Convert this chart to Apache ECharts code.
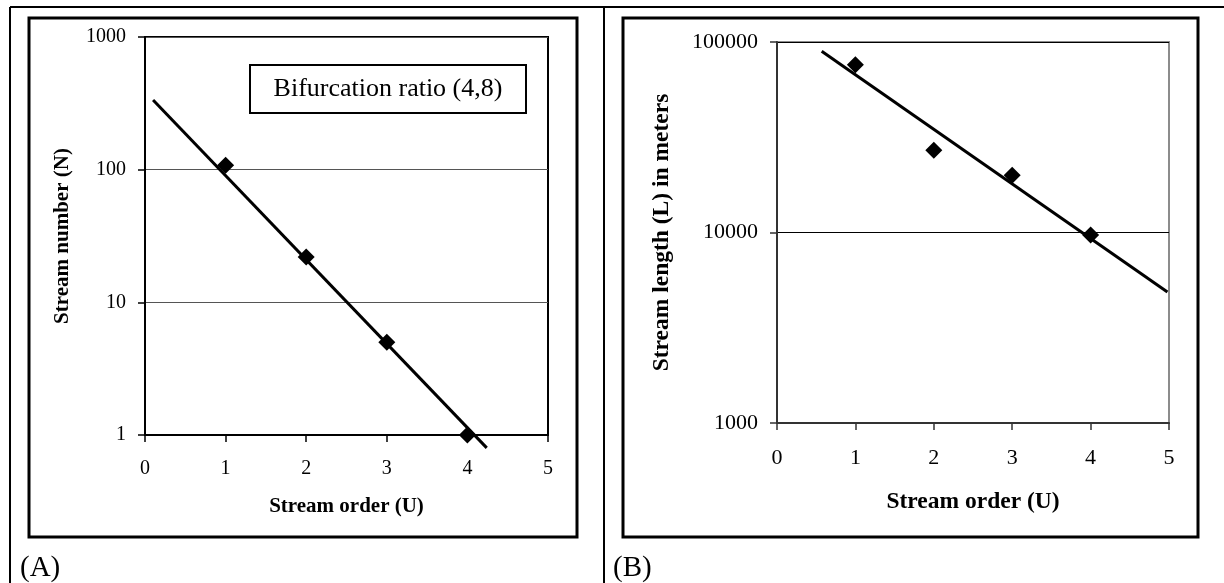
<!DOCTYPE html>
<html>
<head>
<meta charset="utf-8">
<style>
html,body{margin:0;padding:0;background:#fff;}
#chart{width:1224px;height:583px;}
</style>
<script src="https://cdn.jsdelivr.net/npm/echarts@6/dist/echarts.min.js"></script>
</head>
<body>
<div id="chart"></div>
<script>
// ---- data ----
const streamOrder = [1, 2, 3, 4];
const streamNumber = [108, 22, 5, 1];            // panel A (N)
const streamLength = [76000, 27000, 20000, 9700]; // panel B (L, meters)
const trendAx = [0.10, 4.24];
const trendAy = [335, 0.8];
const trendBx = [0.57, 4.98];
const trendBy = [89500, 4870];
const xTickMin = 0, xTickMax = 5, xTickStep = 1;
const yARange = [1, 1000];
const yBRange = [1000, 100000];
const titleA = 'Stream number (N)';
const titleB = 'Stream length (L) in meters';
const titleX = 'Stream order (U)';
const noteA = 'Bifurcation ratio (4,8)';
const panelLabels = ['(A)', '(B)'];

const FONT = '"Liberation Serif", "Times New Roman", serif';
const pairs = (xs, ys) => xs.map((x, i) => [x, ys[i]]);
const plain = v => String(Math.round(v));

const chart = echarts.init(document.getElementById('chart'), null, {renderer: 'canvas'});

function xAxisCfg(gridIndex, axisColor, margin, gap, labelSize, titleSize) {
  return {
    type: 'value', gridIndex, min: xTickMin, max: xTickMax, interval: xTickStep,
    name: titleX, nameLocation: 'middle', nameGap: gap,
    nameTextStyle: {fontFamily: FONT, fontWeight: 'bold', fontSize: titleSize, color: '#000'},
    axisLine: {show: true, onZero: false, lineStyle: {color: axisColor, width: 2}},
    axisTick: {show: true, length: 7, lineStyle: {color: axisColor, width: 1.5}},
    axisLabel: {fontFamily: FONT, fontSize: labelSize, color: '#000', margin: margin, formatter: plain},
    splitLine: {show: false}
  };
}
function yAxisCfg(gridIndex, range, name, axisColor, gap, gridColor, labelSize, titleSize) {
  return {
    type: 'log', logBase: 10, gridIndex, min: range[0], max: range[1],
    name: name, nameLocation: 'middle', nameGap: gap, nameRotate: 90,
    nameTextStyle: {fontFamily: FONT, fontWeight: 'bold', fontSize: titleSize, color: '#000'},
    axisLine: {show: true, onZero: false, lineStyle: {color: axisColor, width: 2}},
    axisTick: {show: true, length: 7, lineStyle: {color: axisColor, width: 1.5}},
    minorTick: {show: false},
    axisLabel: {fontFamily: FONT, fontSize: labelSize, color: '#000', margin: 19, formatter: plain},
    splitLine: {show: true, lineStyle: {color: gridColor, width: 1}}
  };
}

const option = {
  animation: false,
  backgroundColor: '#fff',
  grid: [
    {left: 145, top: 37, width: 403, height: 398, show: true, borderColor: '#000', borderWidth: 2, backgroundColor: 'transparent'},
    {left: 777, top: 42, width: 392, height: 381, show: true, borderColor: '#8c8c8c', borderWidth: 2, backgroundColor: 'transparent'}
  ],
  xAxis: [
    xAxisCfg(0, '#000', 24, 61, 20, 21),
    xAxisCfg(1, '#333', 24, 67, 22, 23.5)
  ],
  yAxis: [
    yAxisCfg(0, yARange, titleA, '#000', 72, '#555', 20, 21),
    yAxisCfg(1, yBRange, titleB, '#333', 103, '#000', 22, 23.5)
  ],
  series: [
    {type: 'line', xAxisIndex: 0, yAxisIndex: 0, data: pairs(trendAx, trendAy), showSymbol: false, clip: false,
     lineStyle: {color: '#000', width: 3}, z: 3},
    {type: 'scatter', xAxisIndex: 0, yAxisIndex: 0, data: pairs(streamOrder, streamNumber), symbol: 'diamond', symbolSize: 17,
     itemStyle: {color: '#000', opacity: 1}, clip: false, z: 4},
    {type: 'line', xAxisIndex: 1, yAxisIndex: 1, data: pairs(trendBx, trendBy), showSymbol: false, clip: false,
     lineStyle: {color: '#000', width: 3}, z: 3},
    {type: 'scatter', xAxisIndex: 1, yAxisIndex: 1, data: pairs(streamOrder, streamLength), symbol: 'diamond', symbolSize: 17,
     itemStyle: {color: '#000', opacity: 1}, clip: false, z: 4}
  ],
  graphic: [
    // outer table lines
    {type: 'line', shape: {x1: 10, y1: 7, x2: 1224, y2: 7}, style: {stroke: '#000', lineWidth: 2}},
    {type: 'line', shape: {x1: 10, y1: 7, x2: 10, y2: 583}, style: {stroke: '#000', lineWidth: 2}},
    {type: 'line', shape: {x1: 604, y1: 7, x2: 604, y2: 583}, style: {stroke: '#000', lineWidth: 2}},
    // chart frames
    {type: 'rect', shape: {x: 29, y: 18, width: 548, height: 519}, style: {fill: 'none', stroke: '#000', lineWidth: 3}},
    {type: 'rect', shape: {x: 623, y: 18, width: 575, height: 519}, style: {fill: 'none', stroke: '#000', lineWidth: 3}},
    // annotation box
    {type: 'rect', shape: {x: 250, y: 65, width: 276, height: 48}, style: {fill: '#fff', stroke: '#000', lineWidth: 2}, z: 10},
    {type: 'text', x: 388, y: 89, z: 11,
     style: {text: noteA, font: '26px ' + FONT, fill: '#000', textAlign: 'center', textVerticalAlign: 'middle'}},
    // panel labels
    {type: 'text', x: 20, y: 568, style: {text: panelLabels[0], font: '29px ' + FONT, fill: '#000', textAlign: 'left', textVerticalAlign: 'middle'}},
    {type: 'text', x: 613, y: 568, style: {text: panelLabels[1], font: '29px ' + FONT, fill: '#000', textAlign: 'left', textVerticalAlign: 'middle'}}
  ]
};
chart.setOption(option);
</script>
</body>
</html>
